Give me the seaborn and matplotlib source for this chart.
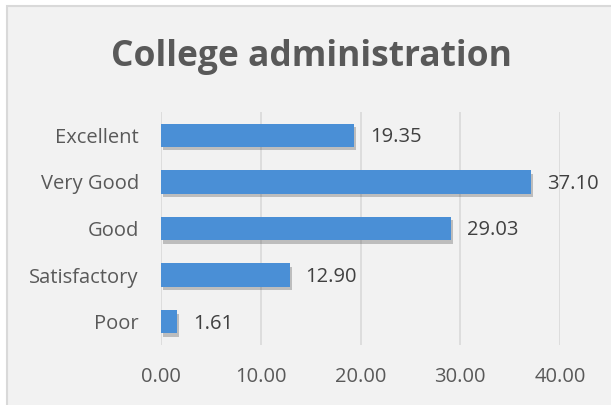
import matplotlib.pyplot as plt
import matplotlib.patheffects as pe
from matplotlib.patches import Rectangle
import seaborn as sns
import pandas as pd

# Chart data
categories = ['Excellent', 'Very Good', 'Good', 'Satisfactory', 'Poor']
values = [19.35, 37.10, 29.03, 12.90, 1.61]
x_ticks = [0, 10, 20, 30, 40]

df = pd.DataFrame({'rating': categories, 'percent': values})

sns.set_style('white')
plt.rcParams['font.family'] = ['Open Sans', 'DejaVu Sans']

bg = '#f2f2f2'
text_col = '#595959'

fig = plt.figure(figsize=(6.11, 4.05), dpi=100)
fig.patch.set_facecolor('white')
# chart area with light border (left/top visible only)
fig.add_artist(Rectangle((7 / 611, -0.05), 1.2, 1 - 6 / 405 + 0.05,
                         transform=fig.transFigure, facecolor=bg,
                         edgecolor='#d9d9d9', linewidth=1.5, zorder=0))

ax = fig.add_axes([161 / 611, 1 - 345 / 405, (560 - 161) / 611, (345 - 112) / 405])
ax.set_facecolor(bg)
ax.patch.set_alpha(0)

sns.barplot(data=df, x='percent', y='rating', orient='h', color='#4a8fd6',
            width=0.5, ax=ax, saturation=1, linewidth=0, zorder=3)
for bar in ax.patches:
    bar.set_path_effects([pe.SimplePatchShadow(offset=(1.5, -2.5), alpha=0.25,
                                               shadow_rgbFace='#222222'),
                          pe.Normal()])

for i, v in enumerate(values):
    ax.text(v + 1.6, i + 0.04, f'{v:.2f}', va='center', ha='left',
            fontsize=14.5, color='#404040')

ax.set_xlim(0, 40)
ax.set_ylim(4.5, -0.5)
ax.set_xticks(x_ticks)
ax.set_xticklabels([f'{t:.2f}' for t in x_ticks])
ax.xaxis.grid(True, color='#d9d9d9', linewidth=1.2, zorder=0)
ax.set_axisbelow(True)
for s in ax.spines.values():
    s.set_visible(False)
ax.tick_params(axis='both', length=0, labelsize=14.5, colors=text_col)
ax.tick_params(axis='x', pad=16)
ax.tick_params(axis='y', pad=16)
ax.set_xlabel('')
ax.set_ylabel('')

fig.text(311 / 611, 1 - 57 / 405, 'College administration', ha='center',
         va='center', fontsize=25.5, fontweight='bold', color=text_col)

fig.savefig('out.png', dpi=100, facecolor=fig.get_facecolor())
